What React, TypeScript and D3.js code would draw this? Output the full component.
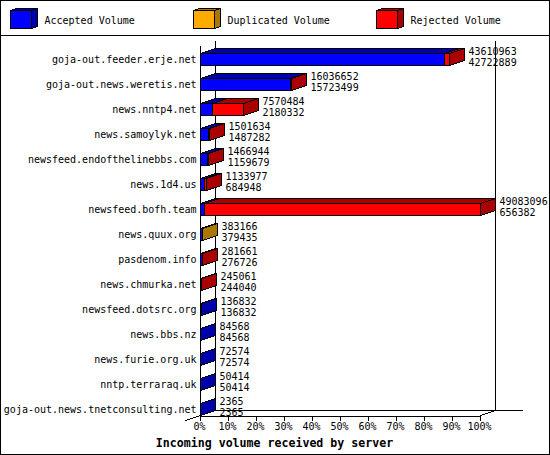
import React, { useEffect, useRef } from 'react';
import * as d3 from 'd3';

const hosts = [
  'goja-out.feeder.erje.net',
  'goja-out.news.weretis.net',
  'news.nntp4.net',
  'news.samoylyk.net',
  'newsfeed.endofthelinebbs.com',
  'news.1d4.us',
  'newsfeed.bofh.team',
  'news.quux.org',
  'pasdenom.info',
  'news.chmurka.net',
  'newsfeed.dotsrc.org',
  'news.bbs.nz',
  'news.furie.org.uk',
  'nntp.terraraq.uk',
  'goja-out.news.tnetconsulting.net',
];
const totals = [43610963, 16036652, 7570484, 1501634, 1466944, 1133977, 49083096, 383166, 281661, 245061, 136832, 84568, 72574, 50414, 2365];
const accepted = [42722889, 15723499, 2180332, 1487282, 1159679, 684948, 656382, 379435, 276726, 244040, 136832, 84568, 72574, 50414, 2365];
const duplicated = [0, 0, 0, 0, 0, 0, 0, 3731, 0, 0, 0, 0, 0, 0, 0];
const rejected = [888074, 313153, 5390152, 14352, 307265, 449029, 48426714, 0, 4935, 1021, 0, 0, 0, 0, 0];

const seriesNames = ['Accepted Volume', 'Duplicated Volume', 'Rejected Volume'];
const seriesValues = [accepted, duplicated, rejected];
const faceColors = ['#0000ff', '#ffaa00', '#ff0000'];
const darkColors = ['#0000aa', '#aa7700', '#aa0000'];
const percentTicks = [0, 10, 20, 30, 40, 50, 60, 70, 80, 90, 100];

const WIDTH = 550;
const HEIGHT = 455;
const DX = 15; // depth of the 3d box
const DY = 5;
const MONO = '"DejaVu Sans Mono", "Liberation Mono", monospace';

const App: React.FC = () => {
  const svgRef = useRef<SVGSVGElement>(null);

  useEffect(() => {
    const svg = d3.select(svgRef.current);
    svg.selectAll('*').remove();

    const x = d3.scaleLinear().domain([0, 100]).range([200, 480]);
    const y = d3.scaleBand<string>().domain(hosts).range([53, 415]).paddingInner(0.52);
    const maxTotal = d3.max(totals) as number;
    const px = (v: number) => Math.round(x((v / maxTotal) * 100));

    const poly = (pts: number[][]) => `M${pts.map(p => p.join(',')).join('L')}Z`;

    svg.append('rect')
      .attr('x', 0.5).attr('y', 0.5)
      .attr('width', WIDTH - 1).attr('height', HEIGHT - 1)
      .attr('fill', '#fff').attr('stroke', '#000');

    const g = svg.append('g').attr('transform', 'translate(0.5,0.5)');

    // legend
    g.append('line').attr('x1', 0).attr('x2', WIDTH).attr('y1', 35).attr('y2', 35).attr('stroke', '#000');
    const legendX = [10, 193, 376];
    seriesNames.forEach((name, i) => {
      const lx = legendX[i];
      g.append('path').attr('d', poly([[lx, 10], [lx + 6, 8], [lx + 27, 8], [lx + 21, 10]]))
        .attr('fill', darkColors[i]).attr('stroke', '#000');
      g.append('path').attr('d', poly([[lx + 21, 10], [lx + 27, 8], [lx + 27, 26], [lx + 21, 28]]))
        .attr('fill', darkColors[i]).attr('stroke', '#000');
      g.append('rect').attr('x', lx).attr('y', 10).attr('width', 21).attr('height', 18)
        .attr('fill', faceColors[i]).attr('stroke', '#000');
      g.append('text').attr('x', lx + 34).attr('y', 23).text(name)
        .attr('font-size', 10).attr('font-family', MONO).attr('fill', '#000');
    });

    // walls
    const wall = [
      [200, 45, 200, 415],
      [215, 40, 215, 410],
      [495, 40, 495, 410],
      [215, 410, 522, 410],
      [185, 420, 215, 410],
      [480, 415, 495, 410],
    ];
    g.append('g').selectAll('line').data(wall).join('line')
      .attr('x1', d => d[0]).attr('y1', d => d[1])
      .attr('x2', d => d[2]).attr('y2', d => d[3])
      .attr('stroke', '#000');

    // x axis
    const axis = g.append('g')
      .attr('transform', 'translate(-0.5,415)')
      .call(d3.axisBottom(x).tickValues(percentTicks).tickSize(5).tickSizeOuter(0).tickFormat(d => `${d}%`));
    axis.attr('font-family', MONO).attr('font-size', 10);
    axis.selectAll('path,line').attr('stroke', '#000');
    axis.selectAll('text').attr('fill', '#000').attr('y', 7).attr('dx', -1);

    g.append('text')
      .attr('x', 274).attr('y', 446)
      .attr('text-anchor', 'middle')
      .attr('font-family', MONO).attr('font-size', 11.6).attr('font-weight', 'bold')
      .text('Incoming volume received by server');

    // bars
    hosts.forEach((host, row) => {
      const top = y(host) as number;
      const bottom = top + y.bandwidth();
      let start = 0;
      const boxes: { x0: number; x1: number; s: number }[] = [];
      seriesValues.forEach((values, s) => {
        const v = values[row];
        if (!v) return;
        boxes.push({ x0: px(start), x1: px(start + v), s });
        start += v;
      });
      boxes.forEach(b => {
        g.append('path')
          .attr('d', poly([[b.x0, top], [b.x0 + DX, top - DY], [b.x1 + DX, top - DY], [b.x1, top]]))
          .attr('fill', darkColors[b.s]).attr('stroke', '#000');
        g.append('path')
          .attr('d', poly([[b.x1, top], [b.x1 + DX, top - DY], [b.x1 + DX, bottom - DY], [b.x1, bottom]]))
          .attr('fill', darkColors[b.s]).attr('stroke', '#000');
        g.append('rect')
          .attr('x', b.x0).attr('y', top).attr('width', b.x1 - b.x0).attr('height', bottom - top)
          .attr('fill', faceColors[b.s]).attr('stroke', '#000');
      });

      const labels = g.append('g').attr('font-family', MONO).attr('font-size', 10).attr('fill', '#000');
      labels.append('text')
        .attr('x', 196).attr('y', top + 9).attr('text-anchor', 'end').text(host);
      const end = px(totals[row]) + DX + 4;
      labels.append('text').attr('x', end).attr('y', top + 1).text(totals[row]);
      labels.append('text').attr('x', end).attr('y', top + 12).text(accepted[row]);
    });
  }, []);

  return (
    <svg
      ref={svgRef}
      width={WIDTH}
      height={HEIGHT}
      viewBox={`0 0 ${WIDTH} ${HEIGHT}`}
      shapeRendering="crispEdges"
      style={{ position: 'absolute', left: 0, top: 0 }}
    />
  );
};

export default App;
